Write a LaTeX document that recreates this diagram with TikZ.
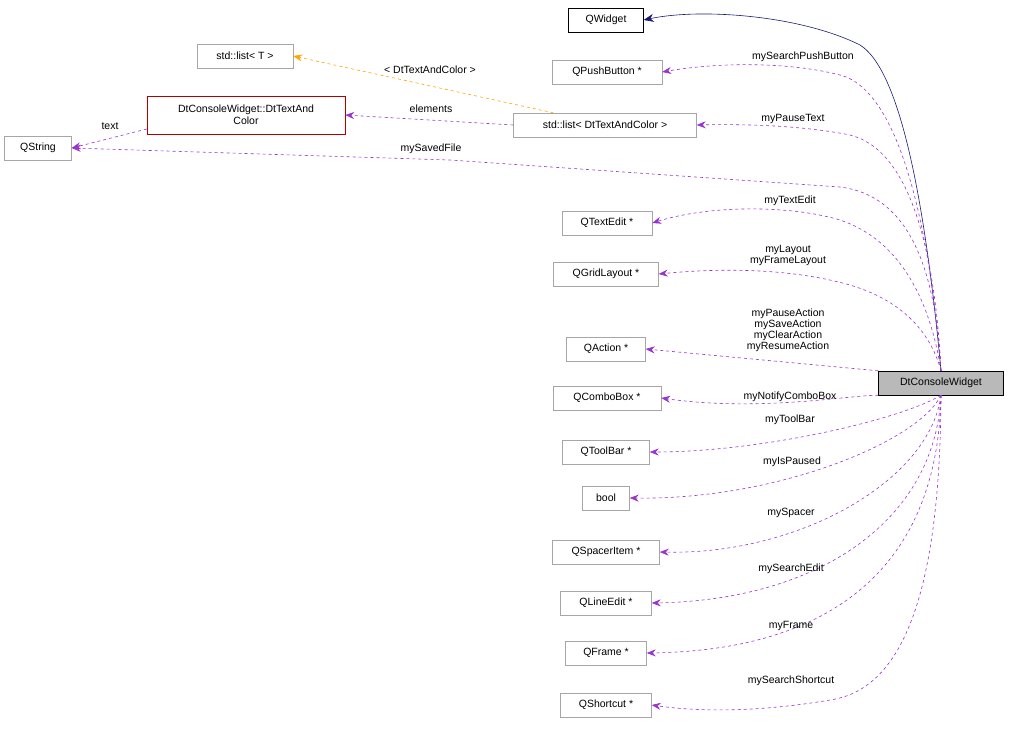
\documentclass[tikz,border=0pt]{standalone}
\usepackage{fontspec}
\setmainfont{Liberation Sans}
\usetikzlibrary{arrows.meta, positioning}
\definecolor{mem}{HTML}{9A32CD}
\definecolor{tmpl}{HTML}{FFA500}
\definecolor{inh}{HTML}{191970}
\tikzstyle{box} = [rectangle, draw=gray!70, fill=white, inner sep=2pt, minimum height=24pt, font=\fontsize{10.5}{12}\selectfont]
\tikzstyle{member} = [mem, dashed, semithick, -{Stealth[length=9pt,width=7pt]}]
\tikzstyle{lbl} = [font=\fontsize{10.5}{11}\selectfont, align=center, inner sep=1pt]

\begin{document}
\begin{tikzpicture}[x=1pt, y=-1pt]
    \useasboundingbox (0,0) rectangle (1011,731);

    % Classes
    \node (qwidget) [box, draw=black, minimum width=75pt] at (606,20) {QWidget};
    \node (qpush) [box, minimum width=110pt] at (607,72) {QPushButton *};
    \node (listt) [box, minimum width=96pt] at (245,56) {std::list< T >};
    \node (textcolor) [box, draw=red!70!black, minimum width=198pt, minimum height=38pt, align=center] at (246,115) {DtConsoleWidget::DtTextAnd\\Color};
    \node (listdt) [box, minimum width=183pt] at (605,125) {std::list< DtTextAndColor >};
    \node (qstring) [box, minimum width=67pt] at (38,148) {QString};
    \node (qtextedit) [box, minimum width=90pt] at (607,223) {QTextEdit *};
    \node (qgrid) [box, minimum width=105pt] at (606,274) {QGridLayout *};
    \node (qaction) [box, minimum width=79pt] at (606,349) {QAction *};
    \node (console) [box, draw=black, fill=gray!55, minimum width=125pt] at (941,383) {DtConsoleWidget};
    \node (qcombo) [box, minimum width=108pt] at (607,398) {QComboBox *};
    \node (qtoolbar) [box, minimum width=87pt] at (606,452) {QToolBar *};
    \node (qbool) [box, minimum width=47pt] at (606,498) {bool};
    \node (qspacer) [box, minimum width=107pt] at (606,552) {QSpacerItem *};
    \node (qline) [box, minimum width=91pt] at (606,603) {QLineEdit *};
    \node (qframe) [box, minimum width=81pt] at (606,653) {QFrame *};
    \node (qshort) [box, minimum width=91pt] at (606,705) {QShortcut *};

    % Inheritance
    \draw [inh, semithick, -{Stealth[length=10pt,width=8pt]}] (console.north) .. controls (925,200) and (900,70) .. (860,45) .. controls (800,15) and (700,8) .. (qwidget.east);

    % Members
    \draw [member] (console.north) .. controls (930,230) and (900,90) .. (840,75) .. controls (790,62) and (720,62) .. (qpush.east);
    \draw [member] (console.north) .. controls (935,250) and (910,150) .. (850,135) .. controls (800,125) and (740,124) .. (listdt.east);
    \draw [member] (console.north) .. controls (935,260) and (905,195) .. (840,187) -- (450,160) -- (qstring.east);
    \draw [member] (console.north) .. controls (930,300) and (900,240) .. (840,220) .. controls (790,205) and (710,205) .. (qtextedit.east);
    \draw [member] (console.north) .. controls (930,330) and (900,300) .. (850,285) .. controls (790,268) and (720,268) .. (qgrid.east);
    \draw [member] (console.north west) -- (qaction.east);
    \draw [member] (console.south west) .. controls (850,395) and (760,412) .. (qcombo.east);
    \draw [member] (console.south) .. controls (900,420) and (760,452) .. (qtoolbar.east);
    \draw [member] (console.south) .. controls (920,440) and (780,500) .. (qbool.east);
    \draw [member] (console.south) .. controls (930,480) and (800,555) .. (qspacer.east);
    \draw [member] (console.south) .. controls (935,520) and (820,600) .. (qline.east);
    \draw [member] (console.south) .. controls (938,560) and (840,650) .. (qframe.east);
    \draw [member] (console.south) .. controls (940,600) and (900,690) .. (830,700) .. controls (760,712) and (700,712) .. (qshort.east);
    \draw [member] (listdt.west) -- (textcolor.east);
    \draw [member] (textcolor.west) ++(0,14) coordinate (tcw) (tcw) -- (qstring.east);
    \draw [tmpl, dashed, semithick, -{Stealth[length=9pt,width=7pt]}] (listdt.north west) ++(40,0) coordinate (ldn) (ldn) -- (listt.east);

    % Labels
    \node [lbl] at (803,57) {mySearchPushButton};
    \node [lbl] at (793,119) {myPauseText};
    \node [lbl] at (431,149) {mySavedFile};
    \node [lbl] at (790,201) {myTextEdit};
    \node [lbl] at (788,255) {myLayout\\myFrameLayout};
    \node [lbl] at (788,330) {myPauseAction\\mySaveAction\\myClearAction\\myResumeAction};
    \node [lbl] at (790,397) {myNotifyComboBox};
    \node [lbl] at (790,420) {myToolBar};
    \node [lbl] at (792,462) {myIsPaused};
    \node [lbl] at (791,513) {mySpacer};
    \node [lbl] at (791,569) {mySearchEdit};
    \node [lbl] at (791,626) {myFrame};
    \node [lbl] at (791,681) {mySearchShortcut};
    \node [lbl] at (110,126) {text};
    \node [lbl] at (431,109) {elements};
    \node [lbl] at (430,70) {< DtTextAndColor >};
\end{tikzpicture}
\end{document}
